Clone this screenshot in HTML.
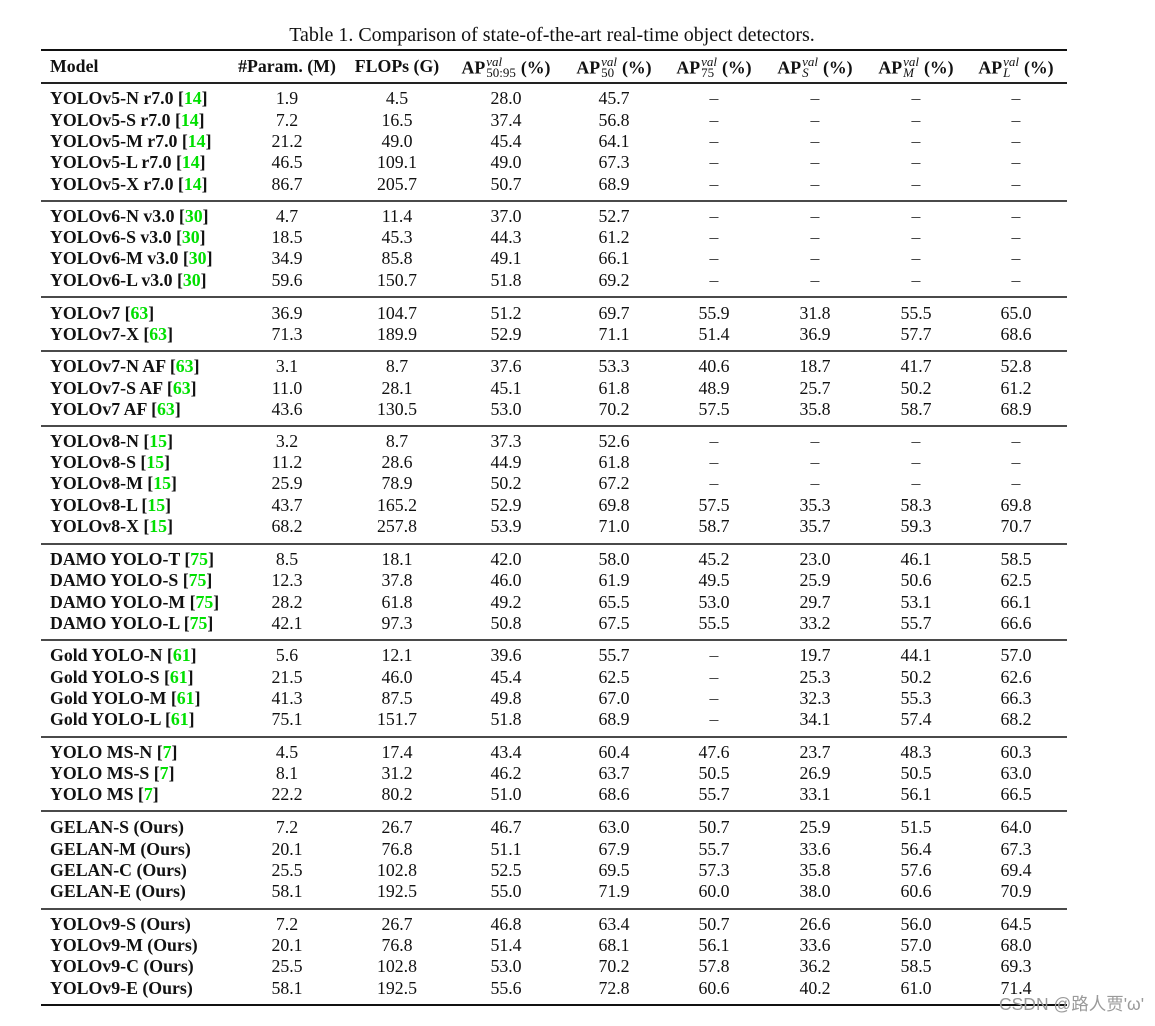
<!DOCTYPE html>
<html><head><meta charset="utf-8">
<style>
html,body{margin:0;padding:0;background:#fff;}
body{width:1155px;height:1026px;position:relative;overflow:hidden;font-family:"Liberation Serif","Noto Serif CJK SC",serif;color:#111;font-size:17.8px;}
.cap{position:absolute;top:23.3px;left:0;width:1104px;text-align:center;font-size:20px;line-height:24px;white-space:nowrap;}
.rule{position:absolute;left:41px;width:1026px;}
.r{position:absolute;left:0;width:1155px;height:21.3px;line-height:21.3px;white-space:nowrap;}
.r b.m{position:absolute;left:50px;font-weight:bold;}
.r > span{position:absolute;width:110px;text-align:center;top:0;}
.c1{left:232px}.c2{left:342px}.c3{left:451px}.c4{left:559px}.c5{left:659px}.c6{left:760px}.c7{left:861px}.c8{left:961px}
g{color:#00e000;font-weight:bold;}
.d{color:#333;}
.h{font-weight:bold;}
em.st{display:inline-block;font-style:normal;font-weight:normal;font-size:13px;line-height:11px;vertical-align:-3.5px;text-align:left;margin:0 5px 0 1px;}
em.st i{display:block;font-style:italic;}
em.st u{display:block;text-decoration:none;}
em.st u i{display:inline;}
.wm{position:absolute;left:999px;top:994px;font-family:"Liberation Sans","Noto Sans CJK SC",sans-serif;font-size:17.5px;color:#9a9a9a;line-height:20px;white-space:nowrap;}
</style></head><body>
<div class="cap">Table 1. Comparison of state-of-the-art real-time object detectors.</div>
<div class="rule" style="top:49px;height:2px;background:#111"></div>
<div class="r h" style="top:56.3px">
<b class="m">Model</b>
<span class="c1">#Param. (M)</span>
<span class="c2">FLOPs (G)</span>
<span class="c3">AP<em class="st"><i>val</i><u>50:95</u></em>(%)</span>
<span class="c4">AP<em class="st"><i>val</i><u>50</u></em>(%)</span>
<span class="c5">AP<em class="st"><i>val</i><u>75</u></em>(%)</span>
<span class="c6">AP<em class="st"><i>val</i><u><i>S</i></u></em>(%)</span>
<span class="c7">AP<em class="st"><i>val</i><u><i>M</i></u></em>(%)</span>
<span class="c8">AP<em class="st"><i>val</i><u><i>L</i></u></em>(%)</span>
</div>
<div class="rule" style="top:82px;height:1.6px;background:#222"></div>

<div class="r" style="top:88.3px"><b class="m">YOLOv5-N r7.0 [<g>14</g>]</b><span class="c1">1.9</span><span class="c2">4.5</span><span class="c3">28.0</span><span class="c4">45.7</span><span class="c5 d">–</span><span class="c6 d">–</span><span class="c7 d">–</span><span class="c8 d">–</span></div>
<div class="r" style="top:109.6px"><b class="m">YOLOv5-S r7.0 [<g>14</g>]</b><span class="c1">7.2</span><span class="c2">16.5</span><span class="c3">37.4</span><span class="c4">56.8</span><span class="c5 d">–</span><span class="c6 d">–</span><span class="c7 d">–</span><span class="c8 d">–</span></div>
<div class="r" style="top:130.9px"><b class="m">YOLOv5-M r7.0 [<g>14</g>]</b><span class="c1">21.2</span><span class="c2">49.0</span><span class="c3">45.4</span><span class="c4">64.1</span><span class="c5 d">–</span><span class="c6 d">–</span><span class="c7 d">–</span><span class="c8 d">–</span></div>
<div class="r" style="top:152.2px"><b class="m">YOLOv5-L r7.0 [<g>14</g>]</b><span class="c1">46.5</span><span class="c2">109.1</span><span class="c3">49.0</span><span class="c4">67.3</span><span class="c5 d">–</span><span class="c6 d">–</span><span class="c7 d">–</span><span class="c8 d">–</span></div>
<div class="r" style="top:173.5px"><b class="m">YOLOv5-X r7.0 [<g>14</g>]</b><span class="c1">86.7</span><span class="c2">205.7</span><span class="c3">50.7</span><span class="c4">68.9</span><span class="c5 d">–</span><span class="c6 d">–</span><span class="c7 d">–</span><span class="c8 d">–</span></div>
<div class="rule" style="top:200px;height:2px;background:#4a4a4a"></div>

<div class="r" style="top:205.8px"><b class="m">YOLOv6-N v3.0 [<g>30</g>]</b><span class="c1">4.7</span><span class="c2">11.4</span><span class="c3">37.0</span><span class="c4">52.7</span><span class="c5 d">–</span><span class="c6 d">–</span><span class="c7 d">–</span><span class="c8 d">–</span></div>
<div class="r" style="top:227.1px"><b class="m">YOLOv6-S v3.0 [<g>30</g>]</b><span class="c1">18.5</span><span class="c2">45.3</span><span class="c3">44.3</span><span class="c4">61.2</span><span class="c5 d">–</span><span class="c6 d">–</span><span class="c7 d">–</span><span class="c8 d">–</span></div>
<div class="r" style="top:248.4px"><b class="m">YOLOv6-M v3.0 [<g>30</g>]</b><span class="c1">34.9</span><span class="c2">85.8</span><span class="c3">49.1</span><span class="c4">66.1</span><span class="c5 d">–</span><span class="c6 d">–</span><span class="c7 d">–</span><span class="c8 d">–</span></div>
<div class="r" style="top:269.7px"><b class="m">YOLOv6-L v3.0 [<g>30</g>]</b><span class="c1">59.6</span><span class="c2">150.7</span><span class="c3">51.8</span><span class="c4">69.2</span><span class="c5 d">–</span><span class="c6 d">–</span><span class="c7 d">–</span><span class="c8 d">–</span></div>
<div class="rule" style="top:296px;height:2px;background:#4a4a4a"></div>

<div class="r" style="top:302.6px"><b class="m">YOLOv7 [<g>63</g>]</b><span class="c1">36.9</span><span class="c2">104.7</span><span class="c3">51.2</span><span class="c4">69.7</span><span class="c5">55.9</span><span class="c6">31.8</span><span class="c7">55.5</span><span class="c8">65.0</span></div>
<div class="r" style="top:323.9px"><b class="m">YOLOv7-X [<g>63</g>]</b><span class="c1">71.3</span><span class="c2">189.9</span><span class="c3">52.9</span><span class="c4">71.1</span><span class="c5">51.4</span><span class="c6">36.9</span><span class="c7">57.7</span><span class="c8">68.6</span></div>
<div class="rule" style="top:350px;height:2px;background:#4a4a4a"></div>

<div class="r" style="top:356.3px"><b class="m">YOLOv7-N AF [<g>63</g>]</b><span class="c1">3.1</span><span class="c2">8.7</span><span class="c3">37.6</span><span class="c4">53.3</span><span class="c5">40.6</span><span class="c6">18.7</span><span class="c7">41.7</span><span class="c8">52.8</span></div>
<div class="r" style="top:377.6px"><b class="m">YOLOv7-S AF [<g>63</g>]</b><span class="c1">11.0</span><span class="c2">28.1</span><span class="c3">45.1</span><span class="c4">61.8</span><span class="c5">48.9</span><span class="c6">25.7</span><span class="c7">50.2</span><span class="c8">61.2</span></div>
<div class="r" style="top:398.9px"><b class="m">YOLOv7 AF [<g>63</g>]</b><span class="c1">43.6</span><span class="c2">130.5</span><span class="c3">53.0</span><span class="c4">70.2</span><span class="c5">57.5</span><span class="c6">35.8</span><span class="c7">58.7</span><span class="c8">68.9</span></div>
<div class="rule" style="top:425px;height:2px;background:#4a4a4a"></div>

<div class="r" style="top:430.8px"><b class="m">YOLOv8-N [<g>15</g>]</b><span class="c1">3.2</span><span class="c2">8.7</span><span class="c3">37.3</span><span class="c4">52.6</span><span class="c5 d">–</span><span class="c6 d">–</span><span class="c7 d">–</span><span class="c8 d">–</span></div>
<div class="r" style="top:452.1px"><b class="m">YOLOv8-S [<g>15</g>]</b><span class="c1">11.2</span><span class="c2">28.6</span><span class="c3">44.9</span><span class="c4">61.8</span><span class="c5 d">–</span><span class="c6 d">–</span><span class="c7 d">–</span><span class="c8 d">–</span></div>
<div class="r" style="top:473.4px"><b class="m">YOLOv8-M [<g>15</g>]</b><span class="c1">25.9</span><span class="c2">78.9</span><span class="c3">50.2</span><span class="c4">67.2</span><span class="c5 d">–</span><span class="c6 d">–</span><span class="c7 d">–</span><span class="c8 d">–</span></div>
<div class="r" style="top:494.7px"><b class="m">YOLOv8-L [<g>15</g>]</b><span class="c1">43.7</span><span class="c2">165.2</span><span class="c3">52.9</span><span class="c4">69.8</span><span class="c5">57.5</span><span class="c6">35.3</span><span class="c7">58.3</span><span class="c8">69.8</span></div>
<div class="r" style="top:516px"><b class="m">YOLOv8-X [<g>15</g>]</b><span class="c1">68.2</span><span class="c2">257.8</span><span class="c3">53.9</span><span class="c4">71.0</span><span class="c5">58.7</span><span class="c6">35.7</span><span class="c7">59.3</span><span class="c8">70.7</span></div>
<div class="rule" style="top:543px;height:2px;background:#4a4a4a"></div>

<div class="r" style="top:549.1px"><b class="m">DAMO YOLO-T [<g>75</g>]</b><span class="c1">8.5</span><span class="c2">18.1</span><span class="c3">42.0</span><span class="c4">58.0</span><span class="c5">45.2</span><span class="c6">23.0</span><span class="c7">46.1</span><span class="c8">58.5</span></div>
<div class="r" style="top:570.4px"><b class="m">DAMO YOLO-S [<g>75</g>]</b><span class="c1">12.3</span><span class="c2">37.8</span><span class="c3">46.0</span><span class="c4">61.9</span><span class="c5">49.5</span><span class="c6">25.9</span><span class="c7">50.6</span><span class="c8">62.5</span></div>
<div class="r" style="top:591.7px"><b class="m">DAMO YOLO-M [<g>75</g>]</b><span class="c1">28.2</span><span class="c2">61.8</span><span class="c3">49.2</span><span class="c4">65.5</span><span class="c5">53.0</span><span class="c6">29.7</span><span class="c7">53.1</span><span class="c8">66.1</span></div>
<div class="r" style="top:613px"><b class="m">DAMO YOLO-L [<g>75</g>]</b><span class="c1">42.1</span><span class="c2">97.3</span><span class="c3">50.8</span><span class="c4">67.5</span><span class="c5">55.5</span><span class="c6">33.2</span><span class="c7">55.7</span><span class="c8">66.6</span></div>
<div class="rule" style="top:639px;height:2px;background:#4a4a4a"></div>

<div class="r" style="top:645.3px"><b class="m">Gold YOLO-N [<g>61</g>]</b><span class="c1">5.6</span><span class="c2">12.1</span><span class="c3">39.6</span><span class="c4">55.7</span><span class="c5 d">–</span><span class="c6">19.7</span><span class="c7">44.1</span><span class="c8">57.0</span></div>
<div class="r" style="top:666.6px"><b class="m">Gold YOLO-S [<g>61</g>]</b><span class="c1">21.5</span><span class="c2">46.0</span><span class="c3">45.4</span><span class="c4">62.5</span><span class="c5 d">–</span><span class="c6">25.3</span><span class="c7">50.2</span><span class="c8">62.6</span></div>
<div class="r" style="top:687.9px"><b class="m">Gold YOLO-M [<g>61</g>]</b><span class="c1">41.3</span><span class="c2">87.5</span><span class="c3">49.8</span><span class="c4">67.0</span><span class="c5 d">–</span><span class="c6">32.3</span><span class="c7">55.3</span><span class="c8">66.3</span></div>
<div class="r" style="top:709.2px"><b class="m">Gold YOLO-L [<g>61</g>]</b><span class="c1">75.1</span><span class="c2">151.7</span><span class="c3">51.8</span><span class="c4">68.9</span><span class="c5 d">–</span><span class="c6">34.1</span><span class="c7">57.4</span><span class="c8">68.2</span></div>
<div class="rule" style="top:736px;height:2px;background:#4a4a4a"></div>

<div class="r" style="top:741.7px"><b class="m">YOLO MS-N [<g>7</g>]</b><span class="c1">4.5</span><span class="c2">17.4</span><span class="c3">43.4</span><span class="c4">60.4</span><span class="c5">47.6</span><span class="c6">23.7</span><span class="c7">48.3</span><span class="c8">60.3</span></div>
<div class="r" style="top:763px"><b class="m">YOLO MS-S [<g>7</g>]</b><span class="c1">8.1</span><span class="c2">31.2</span><span class="c3">46.2</span><span class="c4">63.7</span><span class="c5">50.5</span><span class="c6">26.9</span><span class="c7">50.5</span><span class="c8">63.0</span></div>
<div class="r" style="top:784.3px"><b class="m">YOLO MS [<g>7</g>]</b><span class="c1">22.2</span><span class="c2">80.2</span><span class="c3">51.0</span><span class="c4">68.6</span><span class="c5">55.7</span><span class="c6">33.1</span><span class="c7">56.1</span><span class="c8">66.5</span></div>
<div class="rule" style="top:810px;height:2px;background:#4a4a4a"></div>

<div class="r" style="top:817.3px"><b class="m">GELAN-S (Ours)</b><span class="c1">7.2</span><span class="c2">26.7</span><span class="c3">46.7</span><span class="c4">63.0</span><span class="c5">50.7</span><span class="c6">25.9</span><span class="c7">51.5</span><span class="c8">64.0</span></div>
<div class="r" style="top:838.6px"><b class="m">GELAN-M (Ours)</b><span class="c1">20.1</span><span class="c2">76.8</span><span class="c3">51.1</span><span class="c4">67.9</span><span class="c5">55.7</span><span class="c6">33.6</span><span class="c7">56.4</span><span class="c8">67.3</span></div>
<div class="r" style="top:859.9px"><b class="m">GELAN-C (Ours)</b><span class="c1">25.5</span><span class="c2">102.8</span><span class="c3">52.5</span><span class="c4">69.5</span><span class="c5">57.3</span><span class="c6">35.8</span><span class="c7">57.6</span><span class="c8">69.4</span></div>
<div class="r" style="top:881.2px"><b class="m">GELAN-E (Ours)</b><span class="c1">58.1</span><span class="c2">192.5</span><span class="c3">55.0</span><span class="c4">71.9</span><span class="c5">60.0</span><span class="c6">38.0</span><span class="c7">60.6</span><span class="c8">70.9</span></div>
<div class="rule" style="top:908px;height:2px;background:#4a4a4a"></div>

<div class="r" style="top:913.8px"><b class="m">YOLOv9-S (Ours)</b><span class="c1">7.2</span><span class="c2">26.7</span><span class="c3">46.8</span><span class="c4">63.4</span><span class="c5">50.7</span><span class="c6">26.6</span><span class="c7">56.0</span><span class="c8">64.5</span></div>
<div class="r" style="top:935.1px"><b class="m">YOLOv9-M (Ours)</b><span class="c1">20.1</span><span class="c2">76.8</span><span class="c3">51.4</span><span class="c4">68.1</span><span class="c5">56.1</span><span class="c6">33.6</span><span class="c7">57.0</span><span class="c8">68.0</span></div>
<div class="r" style="top:956.4px"><b class="m">YOLOv9-C (Ours)</b><span class="c1">25.5</span><span class="c2">102.8</span><span class="c3">53.0</span><span class="c4">70.2</span><span class="c5">57.8</span><span class="c6">36.2</span><span class="c7">58.5</span><span class="c8">69.3</span></div>
<div class="r" style="top:977.7px"><b class="m">YOLOv9-E (Ours)</b><span class="c1">58.1</span><span class="c2">192.5</span><span class="c3">55.6</span><span class="c4">72.8</span><span class="c5">60.6</span><span class="c6">40.2</span><span class="c7">61.0</span><span class="c8">71.4</span></div>
<div class="rule" style="top:1004px;height:2px;background:#111"></div>

<div class="wm">CSDN @路人贾'ω'</div>
</body></html>
